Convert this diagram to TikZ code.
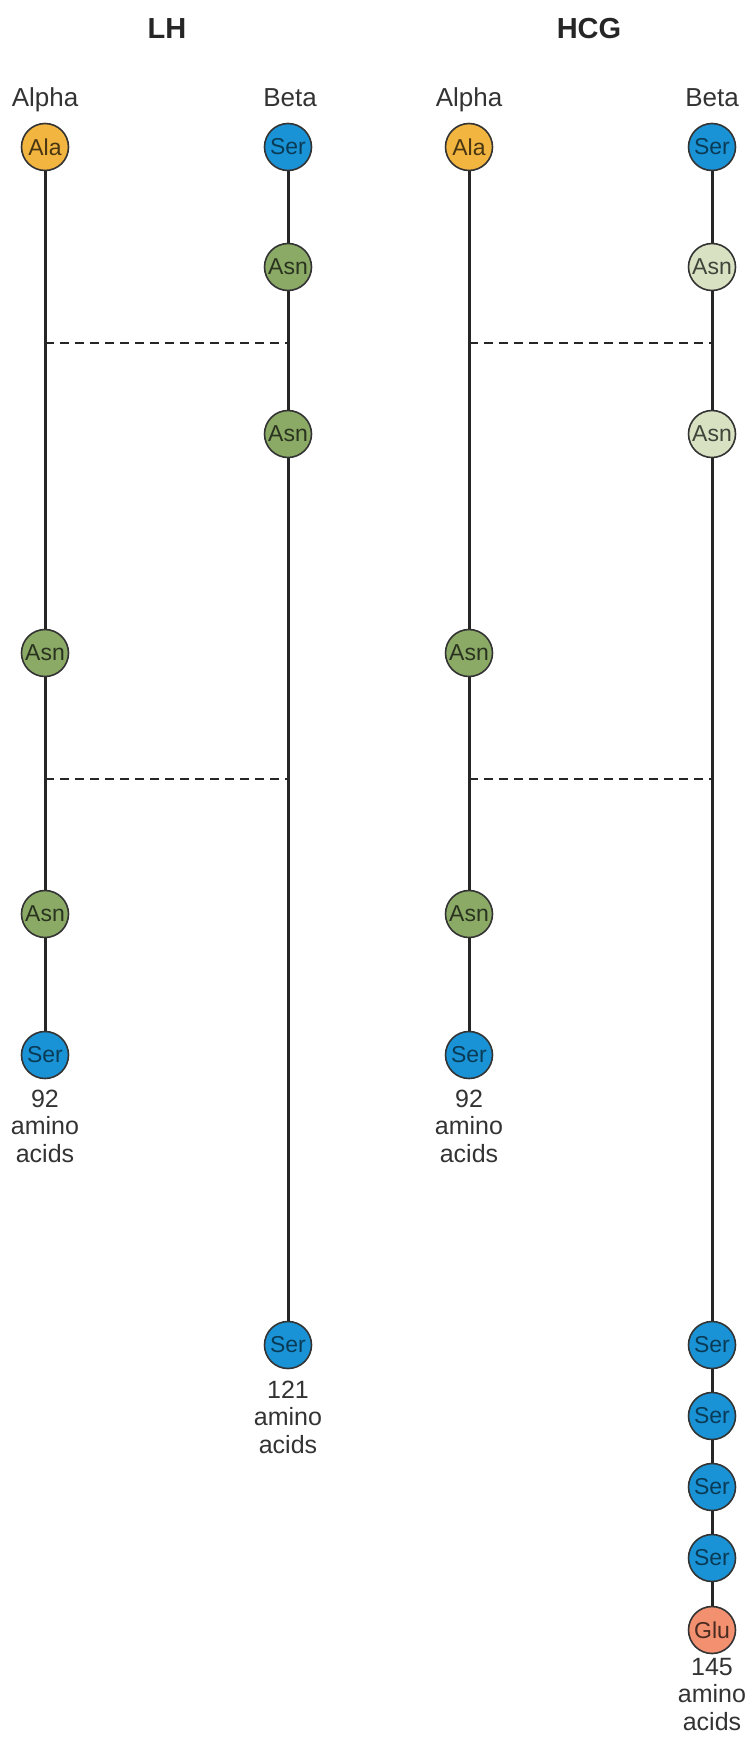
\documentclass[tikz,border=0pt]{standalone}
\usepackage{fontspec}
\setmainfont{Liberation Sans}
\usepackage{xcolor}
\usepackage{tikz}
\usetikzlibrary{positioning}
\definecolor{AlaOrange}{HTML}{F2B53F}
\definecolor{SerBlue}{HTML}{1A93D6}
\definecolor{AsnGreen}{HTML}{8BAA66}
\definecolor{AsnPale}{HTML}{D8E2C2}
\definecolor{GluSalmon}{HTML}{F2906F}

\tikzset{
  residue/.style={circle, draw=black!80, line width=1.6pt, minimum size=47pt, inner sep=0pt, font=\fontsize{23}{23}\selectfont},
  ala/.style={residue, fill=AlaOrange, text=AlaOrange!30!black},
  ser/.style={residue, fill=SerBlue, text=SerBlue!40!black},
  asn/.style={residue, fill=AsnGreen, text=AsnGreen!30!black},
  asnpale/.style={residue, fill=AsnPale, text=AsnPale!30!black},
  glu/.style={residue, fill=GluSalmon, text=GluSalmon!30!black},
  chain/.style={line width=3pt, black!85},
  bridge/.style={line width=2.6pt, black!85, dash pattern=on 9pt off 6pt},
  hormone/.style={font=\fontsize{29}{29}\selectfont\bfseries, text=black!85},
  subunit/.style={anchor=base, font=\fontsize{26}{26}\selectfont, text=black!80},
  length/.style={font=\fontsize{25}{27.5}\selectfont, align=center, text=black!80}
}

\begin{document}
\begin{tikzpicture}[x=1pt,y=-1pt]
  \useasboundingbox (0,0) rectangle (752,1748);

  % titles
  \node[hormone] (lhTitle) at (167,29) {LH};
  \node[hormone] (hcgTitle) at (589,29) {HCG};

  \node[subunit] (lhAlpha) at (45,106) {Alpha};
  \node[subunit] (lhBeta) at (290,106) {Beta};
  \node[subunit] (hcgAlpha) at (469,106) {Alpha};
  \node[subunit] (hcgBeta) at (712,106) {Beta};

  % LH alpha
  \node[ala] (lhA1) at (45,147) {Ala};
  \node[asn] (lhA2) at (45,653) {Asn};
  \node[asn] (lhA3) at (45,914) {Asn};
  \node[ser] (lhA4) at (45,1055) {Ser};
  \draw[chain] (lhA1) -- (lhA2) -- (lhA3) -- (lhA4);
  \node[length] (lhAlen) at (45,1126) {92\\amino\\acids};

  % LH beta
  \node[ser] (lhB1) at (288,147) {Ser};
  \node[asn] (lhB2) at (288,267) {Asn};
  \node[asn] (lhB3) at (288,434) {Asn};
  \node[ser] (lhB4) at (288,1345) {Ser};
  \draw[chain] (lhB1) -- (lhB2) -- (lhB3) -- (lhB4);
  \node[length] (lhBlen) at (288,1417) {121\\amino\\acids};

  % HCG alpha
  \node[ala] (hcgA1) at (469,147) {Ala};
  \node[asn] (hcgA2) at (469,653) {Asn};
  \node[asn] (hcgA3) at (469,914) {Asn};
  \node[ser] (hcgA4) at (469,1055) {Ser};
  \draw[chain] (hcgA1) -- (hcgA2) -- (hcgA3) -- (hcgA4);
  \node[length] (hcgAlen) at (469,1126) {92\\amino\\acids};

  % HCG beta
  \node[ser] (hcgB1) at (712,147) {Ser};
  \node[asnpale] (hcgB2) at (712,267) {Asn};
  \node[asnpale] (hcgB3) at (712,434) {Asn};
  \node[ser] (hcgB4) at (712,1345) {Ser};
  \node[ser] (hcgB5) at (712,1416) {Ser};
  \node[ser] (hcgB6) at (712,1487) {Ser};
  \node[ser] (hcgB7) at (712,1558) {Ser};
  \node[glu] (hcgB8) at (712,1630) {Glu};
  \draw[chain] (hcgB1) -- (hcgB2) -- (hcgB3) -- (hcgB4) -- (hcgB5) -- (hcgB6) -- (hcgB7) -- (hcgB8);
  \node[length] (hcgBlen) at (712,1694) {145\\amino\\acids};

  % disulfide bridges
  \coordinate (lhS1a) at (45,343);
  \coordinate (lhS1b) at (288,343);
  \coordinate (lhS2a) at (45,779);
  \coordinate (lhS2b) at (288,779);
  \coordinate (hcgS1a) at (469,343);
  \coordinate (hcgS1b) at (712,343);
  \coordinate (hcgS2a) at (469,779);
  \coordinate (hcgS2b) at (712,779);
  \draw[bridge] (lhS1a) -- (lhS1b);
  \draw[bridge] (lhS2a) -- (lhS2b);
  \draw[bridge] (hcgS1a) -- (hcgS1b);
  \draw[bridge] (hcgS2a) -- (hcgS2b);
\end{tikzpicture}
\end{document}
